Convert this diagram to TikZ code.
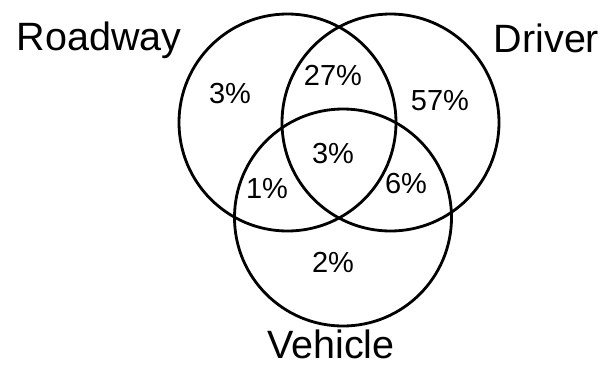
\documentclass[tikz,border=0pt]{standalone}
\usepackage{fontspec}
\setmainfont{Liberation Sans}
\begin{document}
\begin{tikzpicture}[x=1pt,y=-1pt,
  setring/.style={circle, draw=black, line width=2.8pt, minimum size=217pt, inner sep=0pt},
  share/.style={anchor=base, inner sep=0pt, font=\fontsize{29}{29}\selectfont},
  setname/.style={anchor=base, inner sep=0pt, font=\fontsize{39.5}{39.5}\selectfont}]
  \useasboundingbox (0,0) rectangle (603,365);
  % the three sets
  \node[setring] (roadway) at (287.5,122.5) {};
  \node[setring] (driver) at (390.5,122.5) {};
  \node[setring] (vehicle) at (343,217.5) {};
  % set names
  \node[setname] (lroad) at (99,50) {Roadway};
  \node[setname] (ldriver) at (546.5,52) {Driver};
  \node[setname] (lveh) at (331,358) {Vehicle};
  % region shares
  \node[share] (r) at (230,103) {3\%};
  \node[share] (rd) at (333,85) {27\%};
  \node[share] (d) at (440,110) {57\%};
  \node[share] (rdv) at (333,163) {3\%};
  \node[share] (rv) at (267,198) {1\%};
  \node[share] (dv) at (406,193) {6\%};
  \node[share] (v) at (333,272) {2\%};
\end{tikzpicture}
\end{document}
